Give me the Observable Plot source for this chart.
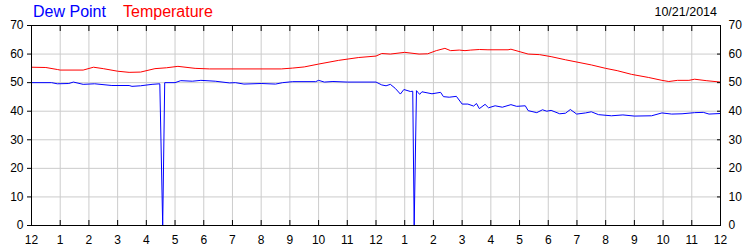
<!DOCTYPE html>
<html>
<head>
<meta charset="utf-8">
<script src="https://cdn.jsdelivr.net/npm/d3@7"></script>
<script src="https://cdn.jsdelivr.net/npm/@observablehq/plot@0.6"></script>
<style>
  html, body { margin: 0; padding: 0; background: #fff; }
  #wrap { position: relative; width: 750px; height: 250px; font-family: "Liberation Sans", Arial, sans-serif; }
  .t { position: absolute; line-height: 1; white-space: nowrap; }
</style>
</head>
<body>
<div id="wrap">
  <div class="t" style="left:33px; top:3.8px; font-size:16px; color:#0000ff;">Dew Point</div>
  <div class="t" style="left:123px; top:3.8px; font-size:16px; color:#ff0000;">Temperature</div>
  <div class="t" style="right:33px; top:6.1px; font-size:12.5px; color:#000;">10/21/2014</div>
</div>
<script>
// Hours since midnight (0 = 12 AM, 24 = next 12 AM)
const tempHours = [0, 0.5, 0.9, 1.0, 1.8, 2.16, 2.5, 3.0, 3.4, 3.8, 4.3, 4.7, 5.1, 5.7, 6.2, 8.7, 9.1, 9.5, 10.0, 10.7, 11.4, 12.0, 12.2, 12.5, 13.0, 13.5, 13.8, 14.1, 14.4, 14.6, 14.9, 15.1, 15.3, 15.6, 15.9, 16.6, 16.7, 17.3, 17.7, 18.1, 18.6, 19.0, 19.5, 20.0, 20.4, 20.9, 21.5, 21.96, 22.2, 22.5, 22.9, 23.1, 23.5, 24];
const tempValues = [55.4, 55.3, 54.6, 54.4, 54.4, 55.4, 54.9, 54.0, 53.6, 53.7, 54.9, 55.2, 55.7, 55.0, 54.8, 54.8, 55.1, 55.5, 56.5, 57.8, 58.8, 59.3, 60.2, 60.0, 60.6, 60.0, 60.1, 61.2, 62.0, 61.2, 61.4, 61.2, 61.4, 61.6, 61.5, 61.5, 61.7, 60.0, 59.8, 59.1, 58.0, 57.2, 56.2, 55.0, 54.2, 52.9, 51.8, 50.8, 50.4, 50.8, 50.8, 51.2, 50.7, 50.2];

const dewHours = [0, 0.7, 0.9, 1.3, 1.46, 1.8, 2.2, 2.8, 3.4, 3.5, 3.8, 4.2, 4.47, 4.57, 4.64, 5.0, 5.2, 5.6, 5.9, 6.4, 6.9, 7.1, 7.4, 8.0, 8.5, 8.75, 9.1, 9.9, 10.0, 10.2, 10.5, 11.0, 12.0, 12.2, 12.35, 12.5, 12.67, 12.85, 12.97, 13.2, 13.28, 13.33, 13.41, 13.46, 13.52, 13.6, 13.95, 14.25, 14.35, 14.55, 14.8, 15.0, 15.2, 15.4, 15.5, 15.6, 15.8, 15.92, 16.15, 16.4, 16.7, 16.9, 17.2, 17.3, 17.6, 17.8, 17.95, 18.1, 18.4, 18.6, 18.77, 18.99, 19.3, 19.5, 19.75, 20.2, 20.6, 21.0, 21.6, 21.96, 22.3, 22.66, 23.1, 23.4, 23.6, 24];
const dewValues = [50.0, 50.0, 49.6, 49.7, 50.2, 49.4, 49.6, 49.0, 49.0, 48.7, 48.9, 49.4, 49.6, 0, 50.0, 50.0, 50.7, 50.5, 50.8, 50.5, 49.9, 50.0, 49.5, 49.7, 49.5, 50.0, 50.35, 50.35, 50.8, 50.2, 50.4, 50.2, 50.2, 49.2, 48.9, 49.4, 48.0, 46.0, 47.6, 46.9, 47.0, 0, 47.2, 46.6, 45.9, 46.8, 46.1, 46.6, 45.1, 44.9, 45.2, 42.5, 42.5, 41.8, 42.7, 40.9, 42.4, 41.2, 41.9, 41.4, 42.3, 41.7, 41.9, 40.2, 39.5, 40.5, 40.0, 40.3, 39.1, 39.3, 40.6, 39.0, 39.4, 39.8, 38.8, 38.4, 38.7, 38.3, 38.4, 39.4, 39.0, 39.1, 39.5, 39.6, 39.0, 39.2];

const hourTicks = d3.range(0, 25);
const hourLabels = hourTicks.map(h => String(h % 12 === 0 ? 12 : h % 12));
const yTicks = [0, 10, 20, 30, 40, 50, 60, 70];

const temp = tempHours.map((h, i) => ({h, v: tempValues[i]}));
const dew = dewHours.map((h, i) => ({h, v: dewValues[i]}));
const fmtHour = h => hourLabels[hourTicks.indexOf(h)];

const chart = Plot.plot({
  width: 750,
  height: 250,
  marginTop: 25,
  marginBottom: 25,
  marginLeft: 31,
  marginRight: 30,
  style: {fontFamily: '"Liberation Sans", Arial, sans-serif', fontSize: "12px", color: "#000", background: "#fff", overflow: "visible"},
  x: {domain: [0, 24]},
  y: {domain: [0, 70]},
  marks: [
    Plot.gridX(hourTicks, {stroke: "#cccccc", strokeOpacity: 1}),
    Plot.gridY(yTicks, {stroke: "#cccccc", strokeOpacity: 1}),
    Plot.line(temp, {x: "h", y: "v", stroke: "#ff0000", strokeWidth: 1}),
    Plot.line(dew, {x: "h", y: "v", stroke: "#0000ff", strokeWidth: 1}),
    Plot.frame({stroke: "#000"}),
    Plot.axisX(hourTicks, {anchor: "bottom", tickSize: 0, tickPadding: 10, tickFormat: fmtHour, label: null, fill: "#000"}),
    Plot.axisX(hourTicks, {anchor: "bottom", tickSize: -5, tickFormat: () => "", label: null, stroke: "#000"}),
    Plot.axisX(hourTicks, {anchor: "top", tickSize: -5, tickFormat: () => "", label: null, stroke: "#000"}),
    Plot.axisY(yTicks, {anchor: "left", tickSize: 4, tickPadding: 4, label: null, fill: "#000", stroke: "#000"}),
    Plot.axisY(yTicks, {anchor: "right", tickSize: 0, tickPadding: 8, label: null, fill: "#000"}),
    Plot.axisY(yTicks, {anchor: "right", tickSize: -4, tickFormat: () => "", label: null, stroke: "#000"})
  ]
});
document.getElementById("wrap").prepend(chart);
</script>
</body>
</html>
